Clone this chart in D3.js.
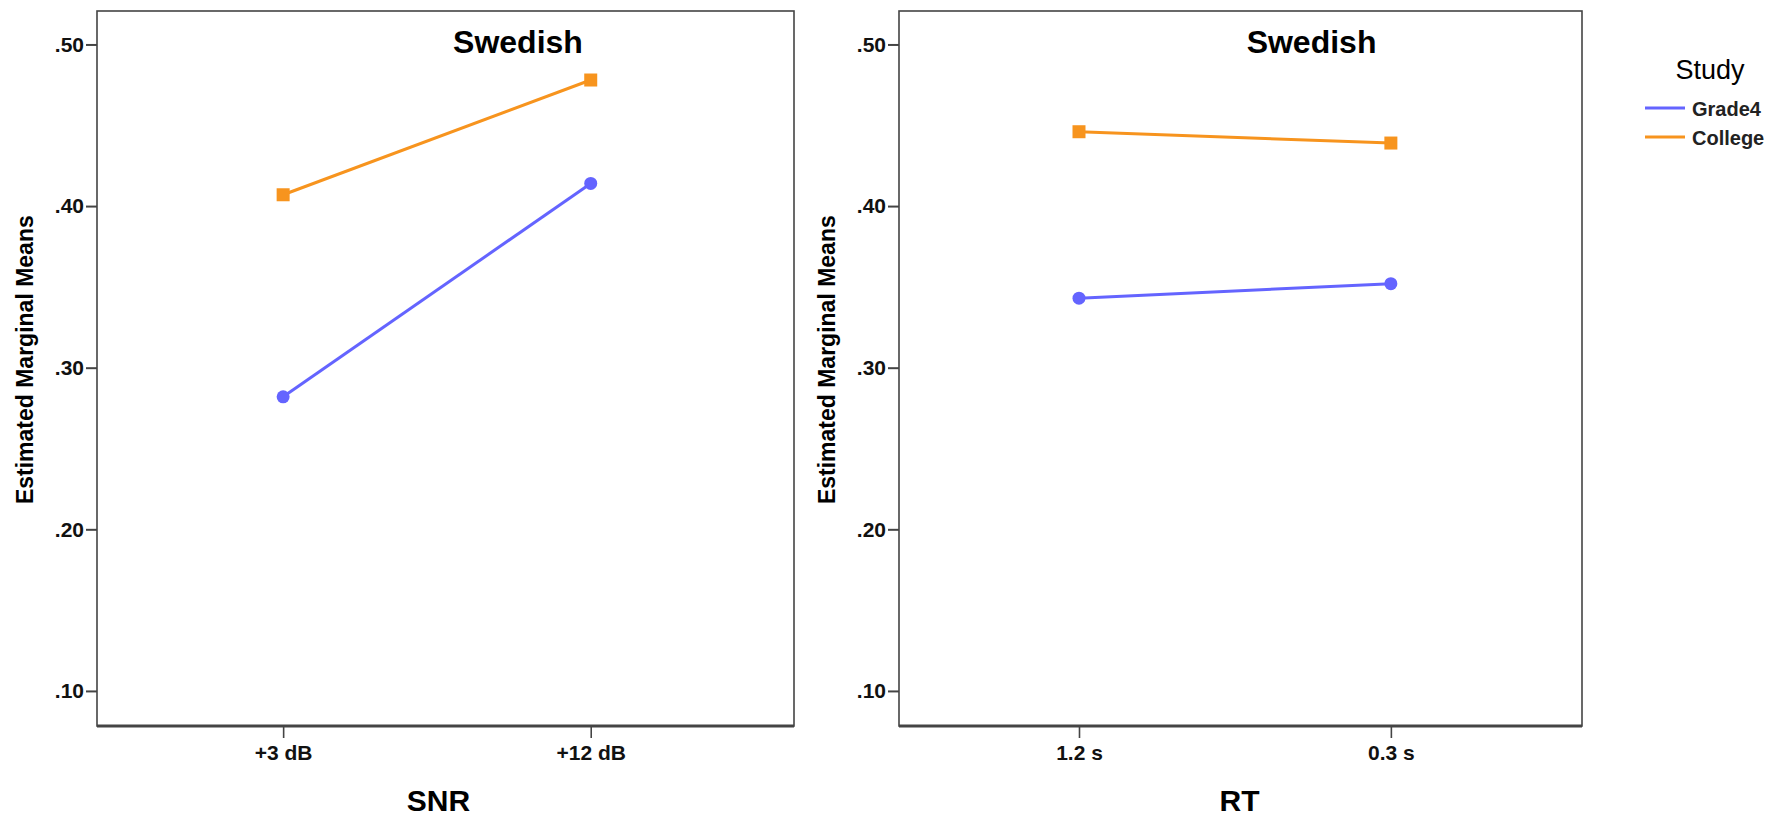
<!DOCTYPE html>
<html>
<head>
<meta charset="utf-8">
<script src="https://cdn.jsdelivr.net/npm/d3@7"></script>
<style>
  body { margin: 0; background: #fff; }
  svg { display: block; }
  text { font-family: "Liberation Sans", Arial, sans-serif; }
</style>
</head>
<body>
<svg id="chart"></svg>
<script>
// données
const studies = ["Grade4", "College"];
const snrLevels = ["+3 dB", "+12 dB"];
const snrGrade4 = [0.282, 0.414];
const snrCollege = [0.407, 0.478];
const rtLevels = ["1.2 s", "0.3 s"];
const rtGrade4 = [0.343, 0.352];
const rtCollege = [0.446, 0.439];
const yTicks = [0.1, 0.2, 0.3, 0.4, 0.5];
const colors = ["#6464ff", "#f7941e"];

const width = 1791, height = 817;
const plotTop = 11, plotBottom = 726;
const svg = d3.select("#chart").attr("width", width).attr("height", height);

// échelle verticale commune
const y = d3.scaleLinear([0.0783, 0.5207], [plotBottom, plotTop]);

const panels = [
  { x0: 97, x1: 794, levels: snrLevels, series: [snrGrade4, snrCollege], xTitle: "SNR", pad: 0.633, align: 0.478, dx: -7 },
  { x0: 899, x1: 1582, levels: rtLevels, series: [rtGrade4, rtCollege], xTitle: "RT", pad: 0.595, align: 0.485, dx: -1 }
];

panels.forEach((p) => {
  const g = svg.append("g");
  const x = d3.scalePoint(p.levels, [p.x0, p.x1]).padding(p.pad).align(p.align);

  // cadre
  g.append("rect")
    .attr("x", p.x0).attr("y", plotTop)
    .attr("width", p.x1 - p.x0).attr("height", plotBottom - plotTop)
    .attr("fill", "none").attr("stroke", "#444").attr("stroke-width", 1.6);

  // axe y
  const yAxis = d3.axisLeft(y).tickValues(yTicks).tickSize(11).tickPadding(2)
    .tickFormat((d) => d3.format(".2f")(d).replace(/^0/, ""));
  g.append("g").attr("transform", `translate(${p.x0},0)`).call(yAxis)
    .call((a) => a.select(".domain").remove())
    .call((a) => a.selectAll("line").attr("stroke", "#444").attr("stroke-width", 2))
    .call((a) => a.selectAll("text")
      .attr("font-size", 21).attr("font-weight", "bold").attr("fill", "#111"));

  // axe x
  const xAxis = d3.axisBottom(x).tickSize(12).tickPadding(7);
  g.append("g").attr("transform", `translate(0,${plotBottom})`).call(xAxis)
    .call((a) => a.select(".domain").attr("stroke", "#444").attr("stroke-width", 3)
      .attr("d", `M${p.x0},0H${p.x1}`))
    .call((a) => a.selectAll("line").attr("stroke", "#444").attr("stroke-width", 1.6))
    .call((a) => a.selectAll("text")
      .attr("font-size", 21).attr("font-weight", "bold").attr("fill", "#111"));

  // titres
  g.append("text")
    .attr("x", p.x0 + (p.x1 - p.x0) * 0.604).attr("y", 53)
    .attr("text-anchor", "middle").attr("font-size", 32).attr("font-weight", "bold")
    .text("Swedish");

  g.append("text")
    .attr("x", (p.x0 + p.x1) / 2 + p.dx).attr("y", 811)
    .attr("text-anchor", "middle").attr("font-size", 30).attr("font-weight", "bold")
    .text(p.xTitle);

  g.append("text")
    .attr("transform", `translate(${p.x0 - 64},${y(0.30) - 8}) rotate(-90)`)
    .attr("text-anchor", "middle").attr("font-size", 23).attr("font-weight", "bold")
    .text("Estimated Marginal Means");

  // séries
  const line = d3.line().x((d, i) => x(p.levels[i])).y((d) => y(d));
  p.series.forEach((vals, s) => {
    g.append("path").attr("d", line(vals))
      .attr("fill", "none").attr("stroke", colors[s]).attr("stroke-width", 3);
    if (s === 0) {
      g.selectAll(null).data(vals).join("circle")
        .attr("cx", (d, i) => x(p.levels[i])).attr("cy", (d) => y(d))
        .attr("r", 6.5).attr("fill", colors[s]);
    } else {
      g.selectAll(null).data(vals).join("rect")
        .attr("x", (d, i) => x(p.levels[i]) - 6.5).attr("y", (d) => y(d) - 6.5)
        .attr("width", 13).attr("height", 13).attr("fill", colors[s]);
    }
  });
});

// légende
const leg = svg.append("g").attr("transform", "translate(1645,0)");
leg.append("text").attr("x", 65).attr("y", 79)
  .attr("text-anchor", "middle").attr("font-size", 27).text("Study");
studies.forEach((s, i) => {
  const yy = 108 + i * 29;
  leg.append("line").attr("x1", 0).attr("x2", 40).attr("y1", yy).attr("y2", yy)
    .attr("stroke", colors[i]).attr("stroke-width", 3);
  leg.append("text").attr("x", 47).attr("y", yy + 8)
    .attr("font-size", 20).attr("font-weight", "bold").attr("fill", "#222").text(s);
});
</script>
</body>
</html>
